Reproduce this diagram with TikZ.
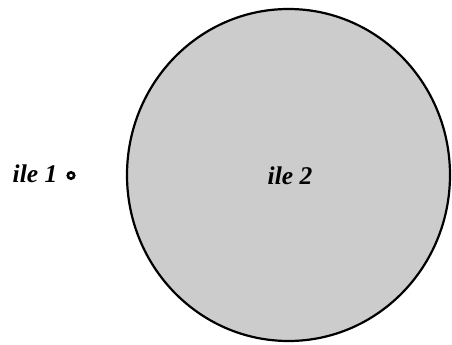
\documentclass[tikz,border=0pt]{standalone}
\usepackage{fontspec}
\setmainfont{Liberation Serif}
\usetikzlibrary{shapes.geometric}
\begin{document}
\begin{tikzpicture}[x=1pt,y=1pt,
  lbl/.style={font=\fontsize{25.5}{28}\selectfont\bfseries\itshape, anchor=base, inner sep=0pt},
  island/.style={draw=black, line width=2.2pt, fill=black!20},
  dotisle/.style={circle, draw=black, line width=2.6pt, fill=white, minimum size=6.4pt, inner sep=0pt}]
\useasboundingbox (0,0) rectangle (452,345);
\node[island, ellipse, minimum width=323pt, minimum height=332pt, inner sep=0pt] (i2) at (288.5,170) {};
\node[lbl] (t2) at (290,160) {ile 2};
\node[lbl] (t1) at (35,162) {ile 1};
\node[dotisle] (i1) at (71,169.5) {};
\end{tikzpicture}
\end{document}
